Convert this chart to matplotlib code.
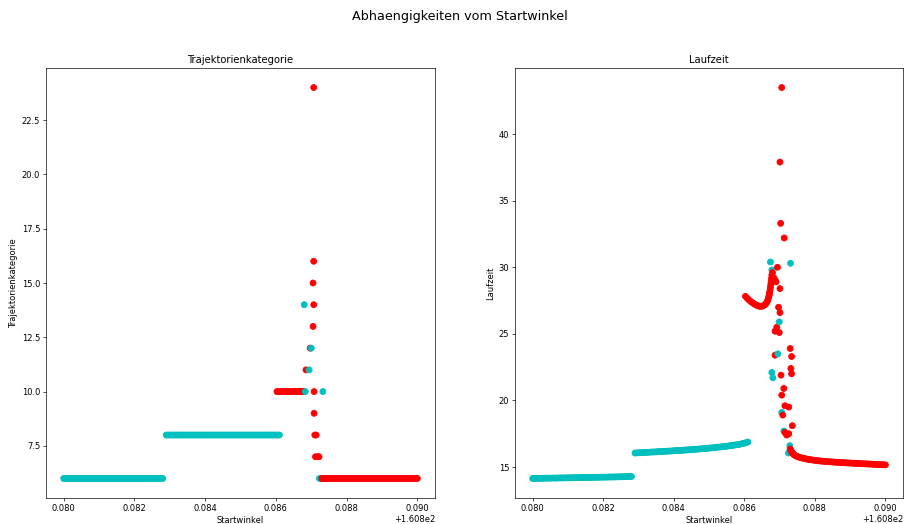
import matplotlib
matplotlib.use("Agg")
import matplotlib.pyplot as plt
import numpy as np

# Startwinkel-Sweep (Offset 160.8 wird von matplotlib als +1.608e2 angezeigt)
offset = 160.8

# Abschnitt A: Kategorie 6, cyan
winkel_a = np.linspace(0.0800, 0.0828, 57)
zeit_a = [14.14, 14.14, 14.14, 14.15, 14.15, 14.15, 14.15, 14.16, 14.16, 14.16,
          14.16, 14.17, 14.17, 14.17, 14.17, 14.18, 14.18, 14.18, 14.18, 14.19,
          14.19, 14.19, 14.19, 14.20, 14.20, 14.20, 14.20, 14.21, 14.21, 14.21,
          14.21, 14.22, 14.22, 14.22, 14.22, 14.23, 14.23, 14.23, 14.23, 14.24,
          14.24, 14.24, 14.24, 14.25, 14.25, 14.25, 14.25, 14.26, 14.26, 14.26,
          14.27, 14.27, 14.27, 14.28, 14.28, 14.29, 14.29]

# Abschnitt B: Kategorie 8, cyan
winkel_b = np.linspace(0.0829, 0.0861, 65)
zeit_b = [16.05, 16.06, 16.07, 16.07, 16.08, 16.09, 16.10, 16.10, 16.11, 16.12,
          16.13, 16.13, 16.14, 16.15, 16.16, 16.16, 16.17, 16.18, 16.19, 16.19,
          16.20, 16.21, 16.22, 16.23, 16.24, 16.24, 16.25, 16.26, 16.27, 16.28,
          16.29, 16.30, 16.31, 16.32, 16.33, 16.34, 16.35, 16.36, 16.37, 16.38,
          16.39, 16.40, 16.42, 16.43, 16.44, 16.46, 16.47, 16.49, 16.50, 16.52,
          16.53, 16.55, 16.56, 16.58, 16.60, 16.62, 16.64, 16.66, 16.68, 16.70,
          16.73, 16.76, 16.79, 16.83, 16.88]

# Abschnitt C: Kategorie 10, rot
winkel_c = [0.08603, 0.08608, 0.08613, 0.08618, 0.08623, 0.08628, 0.08633, 0.08638,
            0.08643, 0.08648, 0.08653, 0.08658, 0.08662, 0.08665, 0.08667, 0.08669,
            0.08670, 0.08671, 0.08672, 0.08673, 0.08674, 0.08675, 0.08676, 0.08677,
            0.08678]
zeit_c = [27.82, 27.68, 27.55, 27.44, 27.34, 27.25, 27.17, 27.11, 27.07, 27.06,
          27.10, 27.18, 27.30, 27.42, 27.57, 27.75, 27.86, 27.98, 28.12, 28.30,
          28.50, 28.70, 28.92, 29.15, 29.40]

# Abschnitt D: Kategorie 6, rot
winkel_d = ([0.08730, 0.08732, 0.08734, 0.08736, 0.08738, 0.08740, 0.08743, 0.08746,
             0.08750, 0.08755] + list(np.linspace(0.0876, 0.0900, 49)))
zeit_d = [16.35, 16.25, 16.15, 16.07, 16.00, 15.95, 15.89, 15.84, 15.79, 15.74,
          15.70, 15.67, 15.64, 15.61, 15.58, 15.56, 15.54, 15.52, 15.50, 15.48,
          15.47, 15.45, 15.44, 15.43, 15.42, 15.41, 15.40, 15.39, 15.38, 15.37,
          15.36, 15.35, 15.34, 15.335, 15.33, 15.32, 15.31, 15.305, 15.30, 15.29,
          15.28, 15.275, 15.27, 15.26, 15.255, 15.25, 15.24, 15.235, 15.23, 15.22,
          15.215, 15.21, 15.20, 15.195, 15.19, 15.18, 15.175, 15.17, 15.16]

# Einzelpunkte im Uebergangsbereich: Kategorie
kat_x = [0.08707, 0.08707, 0.08705, 0.08707, 0.08705, 0.08697, 0.08685, 0.08708,
         0.08708, 0.08710, 0.08714, 0.08712, 0.08718, 0.08722,
         0.08680, 0.08700, 0.08694, 0.08683, 0.08733, 0.08723]
kat_y = [24, 16, 15, 14, 13, 12, 11, 10, 9, 8, 8, 7, 7, 7,
         14, 12, 11, 10, 10, 6]
kat_farbe = ["r"] * 14 + ["c"] * 6

# Einzelpunkte im Uebergangsbereich: Laufzeit
zeit_x = [0.08706, 0.08701, 0.08703, 0.08713, 0.08694, 0.08680, 0.08684, 0.08688,
          0.08690, 0.08701, 0.08697, 0.08701, 0.08692, 0.08687, 0.08699, 0.08730,
          0.08734, 0.08687, 0.08732, 0.08734, 0.08704, 0.08712, 0.08706, 0.08715,
          0.08726, 0.08709, 0.08736, 0.08715, 0.08720, 0.08726,
          0.08674, 0.08731, 0.08678, 0.08699, 0.08695, 0.08678, 0.08681, 0.08706,
          0.08712, 0.08729, 0.08725]
zeit_y = [43.5, 37.9, 33.3, 32.2, 30.0, 29.6, 29.2, 29.0,
          28.9, 28.4, 27.0, 26.6, 25.5, 25.2, 25.1, 23.9,
          23.3, 23.4, 22.4, 22.0, 21.9, 20.9, 20.4, 19.6,
          19.5, 18.9, 18.1, 17.6, 17.4, 17.5,
          30.4, 30.3, 29.8, 25.9, 23.5, 22.1, 21.7, 19.1,
          17.7, 16.6, 16.05]
zeit_farbe = ["r"] * 30 + ["c"] * 11

# Zusammenfuegen und nach Startwinkel sortieren (Zeichenreihenfolge)
haupt_x = list(winkel_a) + list(winkel_b) + winkel_c + winkel_d
haupt_kat = [6] * len(winkel_a) + [8] * len(winkel_b) + [10] * len(winkel_c) + [6] * len(winkel_d)
haupt_zeit = zeit_a + zeit_b + zeit_c + zeit_d
haupt_farbe = ["c"] * (len(winkel_a) + len(winkel_b)) + ["r"] * (len(winkel_c) + len(winkel_d))

links = sorted(zip(haupt_x + kat_x, haupt_kat + kat_y, haupt_farbe + kat_farbe), key=lambda p: p[0])
rechts = sorted(zip(haupt_x + zeit_x, haupt_zeit + zeit_y, haupt_farbe + zeit_farbe), key=lambda p: p[0])

fig = plt.figure(figsize=(15.0, 8.695), dpi=60.27)
fig.suptitle("Abhaengigkeiten vom Startwinkel", fontsize=15.3, x=0.509)

ax1 = fig.add_axes([0.0509, 0.0496, 0.4303, 0.8206])
ax2 = fig.add_axes([0.5697, 0.0496, 0.4292, 0.8206])

for ax, daten, titel in [(ax1, links, "Trajektorienkategorie"), (ax2, rechts, "Laufzeit")]:
    xs = [offset + p[0] for p in daten]
    ys = [p[1] for p in daten]
    cs = [p[2] for p in daten]
    ax.scatter(xs, ys, c=cs, s=50)
    ax.set_title(titel)
    ax.set_xlabel("Startwinkel")
    ax.set_ylabel(titel)

fig.savefig("out.png", dpi=60.27)
